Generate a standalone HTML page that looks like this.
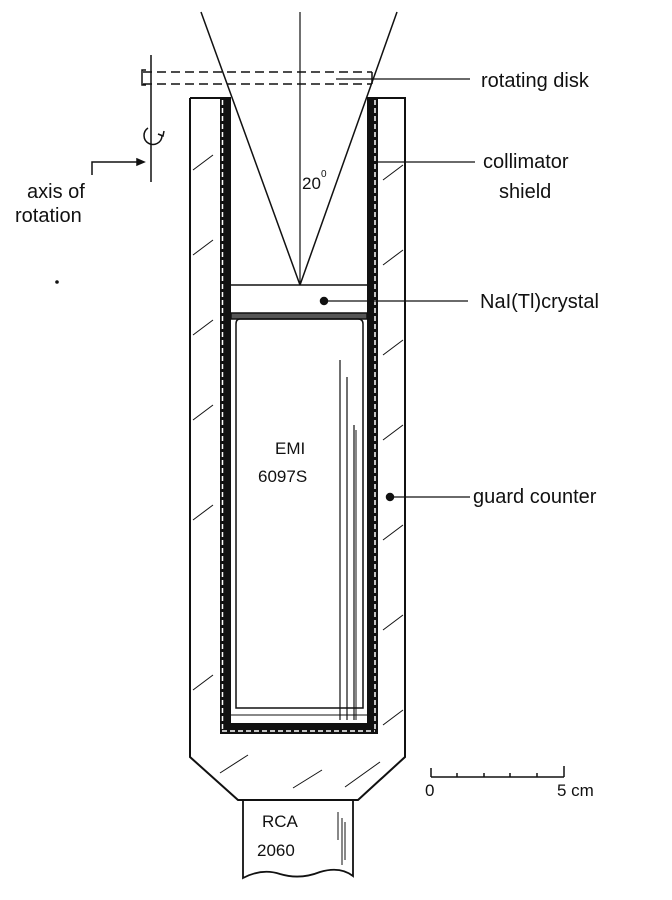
<!DOCTYPE html>
<html><head><style>body{margin:0;background:#fff}svg{display:block}text{font-family:"Liberation Sans",sans-serif;fill:#111}</style></head>
<body>
<svg width="672" height="900" viewBox="0 0 672 900" xmlns="http://www.w3.org/2000/svg">
<g stroke="#111" fill="none" stroke-width="1.5">
<!-- cone -->
<line x1="201" y1="12" x2="300" y2="285"/>
<line x1="397" y1="12" x2="300" y2="285"/>
<line x1="300" y1="12" x2="300" y2="285" stroke-width="1.2"/>
<!-- rotating disk dashed -->
<line x1="143" y1="72" x2="372" y2="72" stroke-dasharray="9,5"/>
<line x1="143" y1="84" x2="372" y2="84" stroke-dasharray="9,5"/>
<path d="M146 70 h-4 v15 h4"/>
<line x1="372" y1="72" x2="372" y2="84"/>
<line x1="336" y1="79" x2="470" y2="79" stroke-width="1.2"/>
<!-- axis -->
<line x1="151" y1="55" x2="151" y2="182"/>
<path d="M148 128 a9 9 0 1 0 14 8"/>
<path d="M158 134 l5 2 l1 -5"/>
<path d="M92 175 V162 H140"/>
<path d="M137 159 l7 3 l-7 3z" fill="#111"/>
<!-- outer body -->
<path d="M190 98 H231 M367 98 H405 V757 L358 800 H238 L190 757 V98" stroke-width="2"/>
<!-- shield -->
<rect x="220" y="98" width="11" height="635" fill="#111" stroke="none"/>
<rect x="367" y="98" width="11" height="635" fill="#111" stroke="none"/>
<rect x="220" y="723" width="158" height="11" fill="#111" stroke="none"/>
<line x1="222.5" y1="100" x2="222.5" y2="731" stroke="#fff" stroke-width="1.5" stroke-dasharray="5,3"/>
<line x1="375" y1="100" x2="375" y2="731" stroke="#fff" stroke-width="1.5" stroke-dasharray="5,3"/>
<line x1="222" y1="731" x2="375" y2="731" stroke="#fff" stroke-width="1.5" stroke-dasharray="5,3"/>
<!-- crystal -->
<line x1="231" y1="285" x2="367" y2="285"/>
<rect x="231" y="313" width="136" height="6" fill="#555" stroke="#111"/>
<circle cx="324" cy="301" r="3.5" fill="#111"/>
<line x1="324" y1="301" x2="468" y2="301" stroke-width="1.2"/>
<!-- PMT -->
<path d="M240 319 H358 Q363 319 363 324 V708 H236 V324 Q236 319 240 319 Z"/>
<line x1="231" y1="715" x2="367" y2="715" stroke-width="1"/>
<line x1="340" y1="360" x2="340" y2="720" stroke-width="1.2"/>
<line x1="347" y1="377" x2="347" y2="720" stroke-width="1.2"/>
<line x1="354" y1="425" x2="354" y2="720" stroke-width="1.2"/>
<line x1="356" y1="430" x2="356" y2="720" stroke-width="1"/>
<!-- guard counter label -->
<circle cx="390" cy="497" r="3.5" fill="#111"/>
<line x1="390" y1="497" x2="470" y2="497" stroke-width="1.2"/>
<line x1="378" y1="162" x2="475" y2="162" stroke-width="1.2"/>
<!-- hatch marks -->
<g stroke-width="1">
<line x1="193" y1="170" x2="213" y2="155"/><line x1="193" y1="255" x2="213" y2="240"/>
<line x1="193" y1="335" x2="213" y2="320"/><line x1="193" y1="420" x2="213" y2="405"/>
<line x1="193" y1="520" x2="213" y2="505"/><line x1="193" y1="690" x2="213" y2="675"/>
<line x1="383" y1="180" x2="403" y2="165"/><line x1="383" y1="265" x2="403" y2="250"/>
<line x1="383" y1="355" x2="403" y2="340"/><line x1="383" y1="440" x2="403" y2="425"/>
<line x1="383" y1="540" x2="403" y2="525"/><line x1="383" y1="630" x2="403" y2="615"/>
<line x1="383" y1="725" x2="403" y2="710"/>
<line x1="220" y1="773" x2="248" y2="755"/><line x1="293" y1="788" x2="322" y2="770"/>
<line x1="345" y1="787" x2="380" y2="762"/>
</g>
<!-- RCA tube -->
<path d="M243 800 V878 Q262 868 280 874 Q300 880 320 872 Q340 866 353 876 V800" stroke-width="1.8"/>
<line x1="338" y1="812" x2="338" y2="840" stroke-width="1"/>
<line x1="342" y1="818" x2="342" y2="865" stroke-width="1"/>
<line x1="345" y1="822" x2="345" y2="860" stroke-width="1"/>
<!-- scale -->
<line x1="431" y1="777" x2="564" y2="777"/>
<line x1="431" y1="768" x2="431" y2="777"/><line x1="564" y1="766" x2="564" y2="777"/>
<line x1="457" y1="773" x2="457" y2="777"/><line x1="484" y1="773" x2="484" y2="777"/>
<line x1="510" y1="773" x2="510" y2="777"/><line x1="537" y1="773" x2="537" y2="777"/>
</g>
<circle cx="57" cy="282" r="1.8" fill="#111"/>
<g font-size="20">
<text x="481" y="87">rotating disk</text>
<text x="483" y="168">collimator</text>
<text x="499" y="198">shield</text>
<text x="480" y="308">NaI(Tl)crystal</text>
<text x="473" y="503">guard counter</text>
<text x="27" y="198">axis of</text>
<text x="15" y="222">rotation</text>
</g>
<g font-size="17">
<text x="302" y="189">20</text><text x="321" y="177" font-size="10">0</text>
<text x="275" y="454">EMI</text>
<text x="258" y="482">6097S</text>
<text x="262" y="827">RCA</text>
<text x="257" y="856">2060</text>
<text x="425" y="796">0</text>
<text x="557" y="796">5 cm</text>
</g>
</svg>
</body></html>
